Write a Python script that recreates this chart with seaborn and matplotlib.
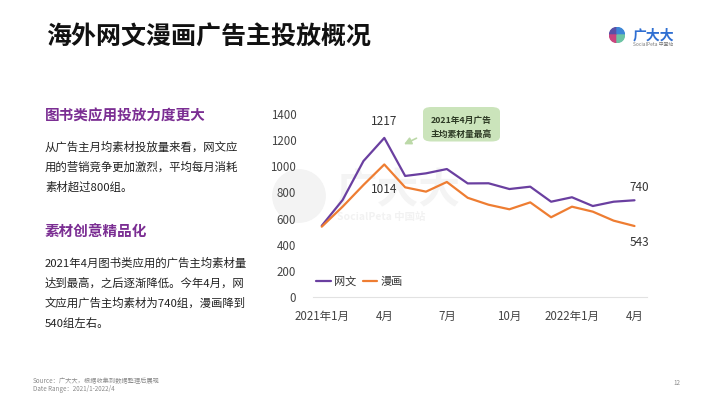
import pandas as pd
import matplotlib.pyplot as plt
import seaborn as sns
from matplotlib.patches import Wedge, Circle, FancyBboxPatch

# --- Données ---
mois = list(range(16))  # 2021年1月 -> 2022年4月
wangwen = [545, 742, 1040, 1217, 926, 946, 979, 869, 870, 826, 844, 729, 763, 696, 729, 740]
manhua = [538, 691, 857, 1014, 839, 806, 880, 759, 706, 671, 724, 610, 691, 653, 584, 543]
tick_pos = [0, 3, 6, 9, 12, 15]
tick_labels = ["2021年1月", "4月", "7月", "10月", "2022年1月", "4月"]
series_names = ["网文", "漫画"]
couleurs = ["#6A3FA0", "#EE7D32"]

df = pd.DataFrame({
    "mois": mois * 2,
    "valeur": wangwen + manhua,
    "serie": [series_names[0]] * 16 + [series_names[1]] * 16,
})

sns.set_theme(style="white")
plt.rcParams["font.family"] = ["Noto Sans CJK SC", "DejaVu Sans"]

W, H = 710, 399
fig = plt.figure(figsize=(W / 100, H / 100), dpi=100)


def px(x, y):
    return x / W, 1 - y / H


def carre(cx, cy, r, z=1):
    # petit axe carré centré sur (cx, cy) en pixels
    a = fig.add_axes([(cx - r) / W, 1 - (cy + r) / H, 2 * r / W, 2 * r / H], zorder=z)
    a.set_xlim(-1, 1)
    a.set_ylim(-1, 1)
    a.axis("off")
    return a


# --- Titre ---
fig.text(*px(46, 38), "海外网文漫画广告主投放概况", fontsize=18, fontweight="heavy",
         color="#111111", va="center", ha="left")

# --- Logo ---
logo_ax = carre(617, 35, 8)
for t1, t2, c in [(90, 180, "#5A4FA6"), (0, 90, "#3C86D6"), (180, 270, "#C9447E"), (270, 360, "#6CC4A4")]:
    logo_ax.add_patch(Wedge((0, 0), 0.95, t1, t2, color=c))
fig.text(*px(633, 35), "广大大", fontsize=10, fontweight="bold", color="#2F6FD2", va="center")
fig.text(*px(633, 45), "SocialPeta 中国站", fontsize=3.5, color="#777777", va="center")

# --- Texte à gauche ---
violet = "#7B2E93"
corps = "#222222"
fig.text(*px(45, 115), "图书类应用投放力度更大", fontsize=10.5, fontweight="bold", color=violet, va="center")
para1 = ["从广告主月均素材投放量来看，网文应", "用的营销竞争更加激烈，平均每月消耗", "素材超过800组。"]
for i, ligne in enumerate(para1):
    fig.text(*px(45, 147 + 20 * i), ligne, fontsize=8.2, color=corps, va="center")
fig.text(*px(45, 232), "素材创意精品化", fontsize=10.5, fontweight="bold", color=violet, va="center")
para2 = ["2021年4月图书类应用的广告主均素材量", "达到最高，之后逐渐降低。今年4月，网",
         "文应用广告主均素材为740组，漫画降到", "540组左右。"]
for i, ligne in enumerate(para2):
    fig.text(*px(45, 263.5 + 20 * i), ligne, fontsize=8.2, color=corps, va="center")

# --- Pied de page ---
fig.text(*px(33, 381), "Source：广大大，根据收集到数据整理后展现", fontsize=4.5, color="#8a8a8a", va="center")
fig.text(*px(33, 389), "Date Range：2021/1-2022/4", fontsize=4.5, color="#8a8a8a", va="center")
fig.text(*px(677, 383), "12", fontsize=4.5, color="#8a8a8a", va="center", ha="center")

# --- Filigrane ---
wm_ax = carre(299, 196, 27, z=0)
wm_ax.add_patch(Circle((0, 0), 0.97, color="#F3F3F3"))
fig.text(*px(336, 190), "广大大", fontsize=30, fontweight="bold", color="#F4F4F4", va="center", zorder=0)
fig.text(*px(337, 217), "SocialPeta 中国站", fontsize=7.5, fontweight="bold", color="#F2F2F2", va="center", zorder=0)

# --- Graphique ---
left, right = 313 / W, 647 / W
bottom, top = 1 - 297 / H, 1 - 114 / H
ax = fig.add_axes([left, bottom, right - left, top - bottom], zorder=2)
ax.patch.set_alpha(0)
sns.lineplot(data=df, x="mois", y="valeur", hue="serie", palette=couleurs, linewidth=1.6, ax=ax)

ax.set_xlim(-0.42, 15.6)
ax.set_ylim(0, 1400)
ax.set_yticks(range(0, 1401, 200))
ax.set_xticks(tick_pos)
ax.set_xticklabels(tick_labels)
ax.set_xlabel("")
ax.set_ylabel("")
ax.tick_params(axis="both", length=0, labelsize=8.3, labelcolor="#444444")
ax.tick_params(axis="x", pad=9)
ax.tick_params(axis="y", pad=12)
for s in ["top", "right", "left"]:
    ax.spines[s].set_visible(False)
ax.spines["bottom"].set_color("#E2E2E2")
ax.spines["bottom"].set_linewidth(0.8)

handles, labels = ax.get_legend_handles_labels()
ax.legend(handles, labels, loc="lower left", bbox_to_anchor=(-0.02, 0.0), ncol=2, frameon=False,
          fontsize=8, handlelength=1.3, handletextpad=0.3, columnspacing=0.6, labelcolor="#333333")

# Étiquettes de valeurs
ax.annotate(str(wangwen[3]), (mois[3], wangwen[3]), xytext=(0, 12), textcoords="offset points",
            ha="center", va="center", fontsize=8.5, color="#333333")
ax.annotate(str(manhua[3]), (mois[3], manhua[3]), xytext=(0, -18), textcoords="offset points",
            ha="center", va="center", fontsize=8.5, color="#333333")
ax.annotate(str(wangwen[-1]), (mois[-1], wangwen[-1]), xytext=(3.5, 9.5), textcoords="offset points",
            ha="center", va="center", fontsize=8.5, color="#333333", annotation_clip=False)
ax.annotate(str(manhua[-1]), (mois[-1], manhua[-1]), xytext=(3.5, -12), textcoords="offset points",
            ha="center", va="center", fontsize=8.5, color="#333333", annotation_clip=False)

# Encadré vert
bx0, by0 = px(423, 141.5)
bx1, by1 = px(500, 107)
fig.patches.append(FancyBboxPatch((bx0, by0), bx1 - bx0, by1 - by0,
                                  boxstyle="round,pad=0,rounding_size=0.012",
                                  transform=fig.transFigure, facecolor="#CBE4BB", edgecolor="none", zorder=3))
fig.text(*px(461.5, 120), "2021年4月广告", fontsize=6.3, fontweight="bold", color="#2E3B25",
         ha="center", va="center", zorder=4)
fig.text(*px(461.5, 134.3), "主均素材量最高", fontsize=6.3, fontweight="bold", color="#2E3B25",
         ha="center", va="center", zorder=4)
ax.annotate("", xy=px(401.5, 145.5), xytext=px(419, 137), xycoords="figure fraction",
            textcoords="figure fraction",
            arrowprops=dict(arrowstyle="-|>,head_length=0.35,head_width=0.18", color="#BCD9A8", lw=1.2))

plt.savefig("out.png", dpi=100)
plt.close()
